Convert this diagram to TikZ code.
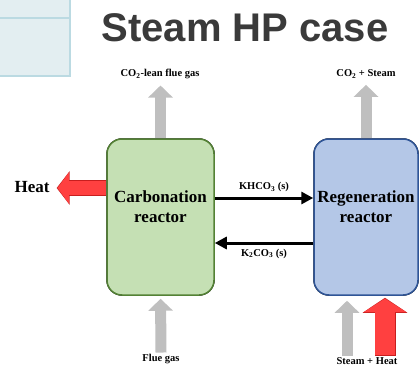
\documentclass[tikz,border=0pt]{standalone}
\usepackage{fontspec}
\setmainfont{Liberation Serif}
\setsansfont{Liberation Sans}
\usetikzlibrary{arrows.meta}

\definecolor{panelfill}{HTML}{E3EEF1}
\definecolor{panelline}{HTML}{BBDAE2}
\definecolor{titlegray}{HTML}{3A3A3A}
\definecolor{carbfill}{HTML}{C5E0B4}
\definecolor{carbline}{HTML}{548235}
\definecolor{regenfill}{HTML}{B4C7E7}
\definecolor{regenline}{HTML}{2F5597}
\definecolor{feedgray}{HTML}{BFBFBF}
\definecolor{heatred}{HTML}{FF4040}
\definecolor{heatedge}{HTML}{C81E1E}

\tikzset{
    reactor/.style={draw, line width=1.5pt, rounded corners=15pt,
        minimum height=156pt, inner sep=0pt},
    reactor label/.style={font=\fontsize{17}{20}\selectfont\bfseries, align=center},
    stream label/.style={font=\fontsize{10.5}{12}\selectfont\bfseries, inner sep=1pt},
    solids/.style={line width=3pt, -{Triangle[length=12pt,width=12pt]}},
    gas feed/.style={draw=feedgray, line width=11pt, -{Triangle[length=12pt,width=24pt]}},
}

\begin{document}
\begin{tikzpicture}[x=1pt, y=-1pt]
    \useasboundingbox (0,0) rectangle (419,366);

    % Corner panel
    \filldraw[fill=panelfill, draw=panelline, line width=1.5pt] (-2,-2) rectangle (70,76);
    \draw[panelline, line width=1.2pt] (-2,18) -- (70,18);

    % Title
    \node[font=\fontsize{40}{48}\sffamily\bfseries, text=titlegray, anchor=base] (title) at (245,42) {Steam HP case};

    % Stream labels
    \node[stream label, anchor=base] (lean) at (160,77) {CO\textsubscript{2}-lean flue gas};
    \node[stream label, anchor=base] (offgas) at (366,77) {CO\textsubscript{2} + Steam};
    \node[stream label, anchor=base] (flue) at (161,361) {Flue gas};
    \node[stream label, anchor=base] (steamheat) at (367,364) {Steam + Heat};
    \node[font=\fontsize{17}{20}\selectfont\bfseries, anchor=base, inner sep=1pt] (heat) at (32,192) {Heat};

    % Reactor positions (boxes are drawn after the fat arrows)
    \coordinate (carbc) at (160.5,217);
    \coordinate (regenc) at (366,217);
    \path (carbc) node[reactor, minimum width=107pt] (carb) {};
    \path (regenc) node[reactor, minimum width=104pt] (regen) {};

    % Gas streams
    \draw[gas feed, shorten >=5pt] (carb.north) -- (carb.north |- lean.south);
    \draw[gas feed, shorten >=5pt] (regen.north) -- (regen.north |- offgas.south);
    \draw[gas feed, shorten >=3pt] (flue.north) -- (carb.south);
    \coordinate (steamin) at ([xshift=-19pt]regen.south);
    \draw[gas feed, shorten >=5pt] (steamin |- steamheat.north) -- (steamin);

    % Heat out of the carbonator
    \coordinate (heatout) at ([yshift=29pt]carb.west);
    \draw[heatedge, line width=16pt, -{Triangle[length=13pt,width=33pt]}, shorten >=6pt]
        (heatout) -- (heatout -| heat.east);
    \draw[heatred, line width=14.6pt, -{Triangle[length=11.4pt,width=30.6pt]}, shorten >=6.9pt]
        (heatout) -- (heatout -| heat.east);

    % Heat into the regenerator
    \coordinate (heatin) at ([xshift=19pt]regen.south);
    \draw[heatedge, line width=21pt, -{Triangle[length=15pt,width=44pt]}, shorten >=2pt]
        (heatin |- steamheat.north) -- (heatin);
    \draw[heatred, line width=19.6pt, -{Triangle[length=13.4pt,width=41.6pt]}, shorten >=2.85pt, shorten <=0.7pt]
        (heatin |- steamheat.north) -- (heatin);

    % Reactors
    \node[reactor, fill=carbfill, draw=carbline, minimum width=107pt] at (carbc) {};
    \node[reactor, fill=regenfill, draw=regenline, minimum width=104pt] at (regenc) {};
    \node[reactor label] (carbname) at ([yshift=10pt]carb.center) {Carbonation\\reactor};
    \node[reactor label] (regenname) at ([yshift=10pt]regen.center) {Regeneration\\reactor};

    % Solids loop
    \draw[solids] ([yshift=19pt]carb.east) -- ([yshift=19pt]regen.west)
        node[midway, above=1pt, font=\fontsize{10.5}{12}\selectfont\bfseries] (khco) {KHCO\textsubscript{3} (s)};
    \draw[solids] ([yshift=-26pt]regen.west) -- ([yshift=-26pt]carb.east)
        node[midway, below=1pt, font=\fontsize{10.5}{12}\selectfont\bfseries] (kco) {K\textsubscript{2}CO\textsubscript{3} (s)};
\end{tikzpicture}
\end{document}
